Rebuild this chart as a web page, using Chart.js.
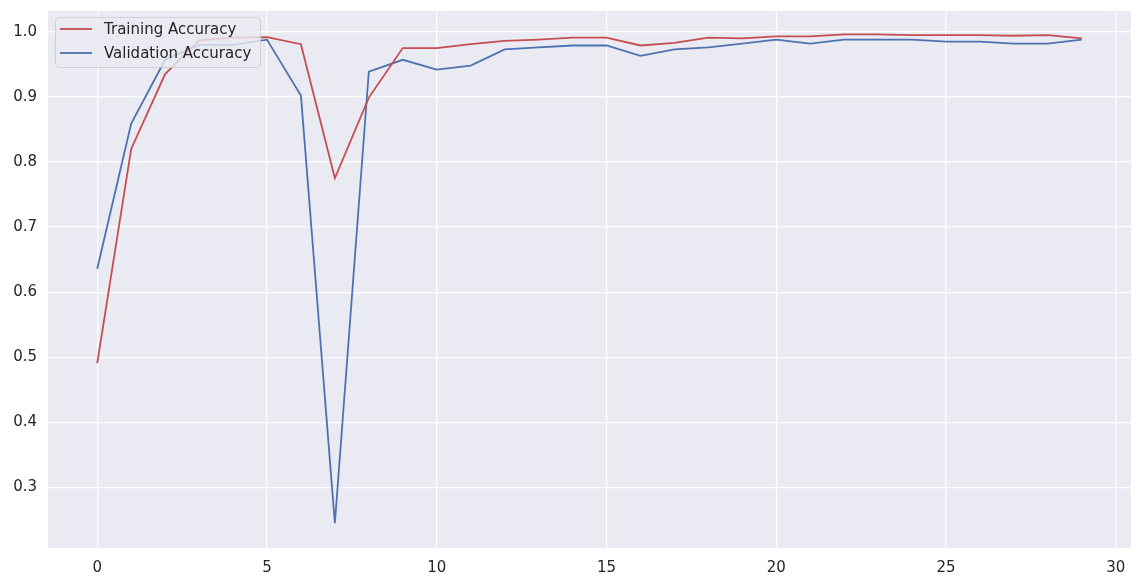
<!DOCTYPE html>
<html>
<head>
<meta charset="utf-8">
<script src="https://cdn.jsdelivr.net/npm/chart.js@4.4.0/dist/chart.umd.min.js"></script>
<style>
  html, body { margin: 0; padding: 0; background: #ffffff; }
  canvas { display: block; }
</style>
</head>
<body>
<canvas id="accChart" width="1142" height="587"></canvas>
<script>
const epochs = [0, 1, 2, 3, 4, 5, 6, 7, 8, 9, 10, 11, 12, 13, 14, 15, 16, 17, 18, 19, 20, 21, 22, 23, 24, 25, 26, 27, 28, 29];

const trainingAccuracy = [
  0.491, 0.820, 0.935, 0.987, 0.991, 0.992, 0.981, 0.775, 0.899, 0.975,
  0.975, 0.981, 0.986, 0.988, 0.991, 0.991, 0.979, 0.983, 0.991, 0.990,
  0.993, 0.993, 0.996, 0.996, 0.995, 0.995, 0.995, 0.994, 0.995, 0.990
];

const validationAccuracy = [
  0.636, 0.859, 0.957, 0.980, 0.980, 0.988, 0.902, 0.245, 0.939, 0.957,
  0.942, 0.948, 0.973, 0.976, 0.979, 0.979, 0.963, 0.973, 0.976, 0.982,
  0.988, 0.982, 0.988, 0.988, 0.988, 0.985, 0.985, 0.982, 0.982, 0.988
];

const xTicks = [0, 5, 10, 15, 20, 25, 30];
const yTicks = [0.3, 0.4, 0.5, 0.6, 0.7, 0.8, 0.9, 1.0];

const TEXT = "#262626";
const FONT = "DejaVu Sans";

// seaborn style grey panel behind the lines
const panelBg = {
  id: "panelBg",
  beforeDraw(chart) {
    const { ctx, chartArea: a } = chart;
    ctx.save();
    ctx.fillStyle = "#EAEAF2";
    ctx.fillRect(a.left, a.top, a.right - a.left, a.bottom - a.top);
    ctx.restore();
  }
};

// matplotlib-like legend box in the upper left corner
const boxLegend = {
  id: "boxLegend",
  afterDatasetsDraw(chart) {
    const { ctx, chartArea: a } = chart;
    const x = a.left + 7, y = a.top + 6, w = 205, h = 50;
    ctx.save();
    ctx.beginPath();
    ctx.roundRect(x + 0.5, y + 0.5, w, h, 4);
    ctx.fillStyle = "rgba(234,234,242,0.8)";
    ctx.fill();
    ctx.strokeStyle = "rgba(204,204,204,0.8)";
    ctx.lineWidth = 1;
    ctx.stroke();
    ctx.font = "15px '" + FONT + "'";
    ctx.textBaseline = "middle";
    chart.data.datasets.forEach((ds, i) => {
      const ly = y + 12 + i * 24;
      ctx.beginPath();
      ctx.moveTo(x + 5, ly);
      ctx.lineTo(x + 37, ly);
      ctx.strokeStyle = ds.borderColor;
      ctx.lineWidth = 1.8;
      ctx.stroke();
      ctx.fillStyle = TEXT;
      ctx.fillText(ds.label, x + 49, ly + 1);
    });
    ctx.restore();
  }
};

new Chart(document.getElementById("accChart"), {
  type: "line",
  data: {
    labels: epochs,
    datasets: [
      {
        label: "Training Accuracy",
        data: trainingAccuracy,
        borderColor: "#C44E52",
        borderWidth: 1.8,
        pointRadius: 0,
        tension: 0,
        fill: false
      },
      {
        label: "Validation Accuracy",
        data: validationAccuracy,
        borderColor: "#4C72B0",
        borderWidth: 1.8,
        pointRadius: 0,
        tension: 0,
        fill: false
      }
    ]
  },
  options: {
    responsive: false,
    animation: false,
    layout: { padding: { top: 11, right: 11, left: 0, bottom: 0 } },
    plugins: {
      legend: { display: false },
      tooltip: { enabled: false }
    },
    scales: {
      x: {
        type: "linear",
        min: -1.45,
        max: 30.45,
        afterBuildTicks: (scale) => { scale.ticks = xTicks.map((v) => ({ value: v })); },
        afterFit: (scale) => {
          scale.height = 39;
          scale.paddingLeft = 0;
          scale.paddingRight = 0;
        },
        grid: { color: "#ffffff", lineWidth: 1.3, drawTicks: false },
        border: { display: false },
        ticks: {
          color: TEXT,
          font: { family: FONT, size: 15 },
          padding: 11,
          maxRotation: 0,
          callback: (v) => v
        }
      },
      y: {
        min: 0.207,
        max: 1.032,
        afterBuildTicks: (scale) => { scale.ticks = yTicks.map((v) => ({ value: v })); },
        afterFit: (scale) => {
          scale.width = 48;
          scale.paddingTop = 0;
          scale.paddingBottom = 0;
        },
        grid: { color: "#ffffff", lineWidth: 1.3, drawTicks: false },
        border: { display: false },
        ticks: {
          color: TEXT,
          font: { family: FONT, size: 15 },
          padding: 11,
          callback: (v) => Number(v).toFixed(1)
        }
      }
    }
  },
  plugins: [panelBg, boxLegend]
});
</script>
</body>
</html>
